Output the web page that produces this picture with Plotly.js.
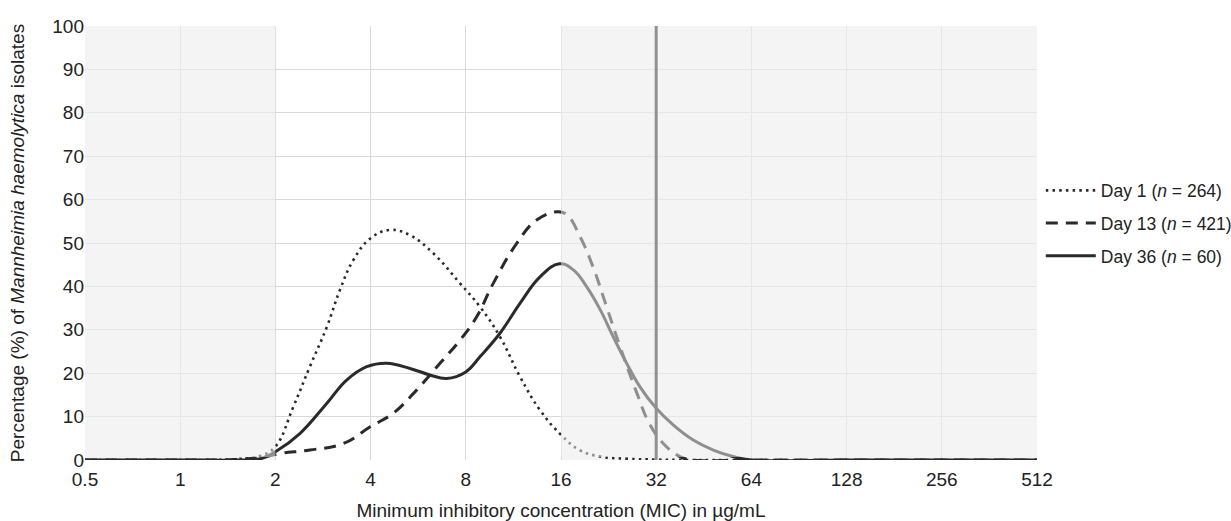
<!DOCTYPE html>
<html>
<head>
<meta charset="utf-8">
<script src="https://cdn.plot.ly/plotly-3.0.1.min.js"></script>
<style>html,body{margin:0;padding:0;background:#fff;}#chart{width:1231px;height:521px;}</style>
</head>
<body>
<div id="chart"></div>
<script>
// MIC tick labels (µg/mL)
const micTicks = [0.5, 1, 2, 4, 8, 16, 32, 64, 128, 256, 512];
const micTickText = ['0.5', '1', '2', '4', '8', '16', '32', '64', '128', '256', '512'];
const yTicks = [0, 10, 20, 30, 40, 50, 60, 70, 80, 90, 100];

// Day 1 (n = 264)
const day1X = [0.5, 1, 1.5, 1.8, 2, 2.28, 2.57, 2.91, 3.2, 3.53, 4, 4.61, 5.33, 6.32, 7.67, 8.87, 10.26, 11.87, 13.73, 16, 18.3, 21.3, 25.8, 32, 40, 64, 128, 256, 512];
const day1Y = [0, 0, 0.2, 1, 3.1, 12.3, 21.5, 30.7, 39.2, 46.1, 51.1, 53.0, 51.8, 47.6, 40.7, 35.3, 28.4, 19.2, 11.5, 5.8, 2.3, 0.8, 0.3, 0.1, 0, 0, 0, 0, 0];

// Day 13 (n = 421)
const day13X = [0.5, 1, 1.5, 1.8, 2.07, 2.57, 3.28, 4, 4.72, 5.59, 6.63, 7.67, 8.66, 9.77, 11.59, 13.4, 15.6, 16.7, 18.4, 20.2, 22.3, 24.6, 27.8, 30.4, 33.7, 38, 42, 64, 128, 256, 512];
const day13Y = [0, 0, 0.1, 0.6, 1.5, 2.3, 3.8, 7.7, 10.8, 16.1, 22.3, 27.6, 33.0, 40.7, 49.9, 55.3, 57.2, 56.5, 51.4, 44.5, 35.3, 26.1, 15.4, 8.5, 3.8, 0.8, 0, 0, 0, 0, 0];

// Day 36 (n = 60)
const day36X = [0.5, 1, 1.5, 1.8, 2, 2.39, 2.91, 3.36, 3.89, 4.5, 5.33, 6.16, 6.96, 8, 8.87, 10.26, 11.87, 13.73, 15.8, 17.5, 19.3, 21.3, 23.4, 25.8, 28.4, 32, 36.2, 41.9, 48.5, 56, 64, 128, 256, 512];
const day36Y = [0, 0, 0, 0.3, 1.9, 6.1, 13.1, 18.4, 21.5, 22.3, 21.1, 19.6, 18.8, 20.3, 23.8, 29.2, 36.1, 42.2, 45.2, 43.8, 39.9, 34.6, 28.4, 22.3, 16.9, 11.9, 8.1, 4.6, 2.3, 0.8, 0, 0, 0, 0];

const seriesNames = ['Day 1 (<i>n</i> = 264)', 'Day 13 (<i>n</i> = 421)', 'Day 36 (<i>n</i> = 60)'];
const breakpoint = 32;

const lineColor = '#2a2a2a';
const traces = [
  {x: day1X, y: day1Y, name: seriesNames[0], legendgroup: 'a', mode: 'lines',
   line: {color: lineColor, width: 2.6, dash: '2.5px,4.2px', shape: 'spline', smoothing: 1.2}},
  {x: day13X, y: day13Y, name: seriesNames[1], legendgroup: 'b', mode: 'lines',
   line: {color: lineColor, width: 3, dash: '12px,8px', shape: 'spline', smoothing: 1.2}},
  {x: day36X, y: day36Y, name: seriesNames[2], legendgroup: 'c', mode: 'lines',
   line: {color: lineColor, width: 3, shape: 'spline', smoothing: 1.2}}
];

const shade = 'rgba(244,244,244,0.5)';
const txt = '#222';
const layout = {
  width: 1231, height: 521,
  margin: {l: 85, r: 194, t: 26, b: 61, autoexpand: false},
  paper_bgcolor: '#ffffff',
  plot_bgcolor: '#f4f4f4',
  font: {family: 'Liberation Sans, Arial, sans-serif', size: 19, color: txt},
  showlegend: true,
  legend: {x: 1.004, xanchor: 'left', y: 0.545, yanchor: 'middle', traceorder: 'grouped',
           tracegroupgap: 7, itemwidth: 50, font: {size: 17.5, color: txt}, bgcolor: 'rgba(0,0,0,0)'},
  xaxis: {type: 'log', range: [Math.log10(0.5), Math.log10(512)], tickvals: micTicks, ticktext: micTickText,
          showgrid: true, gridcolor: '#d9d9d9', gridwidth: 1, zeroline: false, showline: false, ticks: '',
          ticklabelstandoff: 6, automargin: false,
          tickfont: {size: 19, color: txt},
          title: {text: 'Minimum inhibitory concentration (MIC) in µg/mL', font: {size: 19, color: txt}, standoff: 14}},
  yaxis: {range: [0, 100], tickvals: yTicks, showgrid: true, gridcolor: '#d9d9d9', gridwidth: 1, zeroline: false,
          showline: false, ticks: '', tickfont: {size: 19, color: txt}, automargin: false,
          title: {text: 'Percentage (%) of <i>Mannheimia haemolytica</i> isolates', font: {size: 19, color: txt}, standoff: 22}},
  shapes: [
    {type: 'rect', xref: 'x', yref: 'y', x0: 2, x1: 16, y0: 0, y1: 100, fillcolor: '#ffffff', line: {width: 0}, layer: 'below'},
    {type: 'rect', xref: 'x', yref: 'y', x0: 0.5, x1: 2, y0: 0.7, y1: 100, fillcolor: shade, line: {width: 0}, layer: 'above'},
    {type: 'rect', xref: 'x', yref: 'y', x0: 16, x1: 512, y0: 0.7, y1: 100, fillcolor: shade, line: {width: 0}, layer: 'above'},
    {type: 'line', xref: 'x', yref: 'y', x0: breakpoint, x1: breakpoint, y0: 0, y1: 100, line: {color: '#909194', width: 3}, layer: 'above'}
  ]
};

Plotly.newPlot('chart', traces, layout, {displayModeBar: false, staticPlot: true});
</script>
</body>
</html>
